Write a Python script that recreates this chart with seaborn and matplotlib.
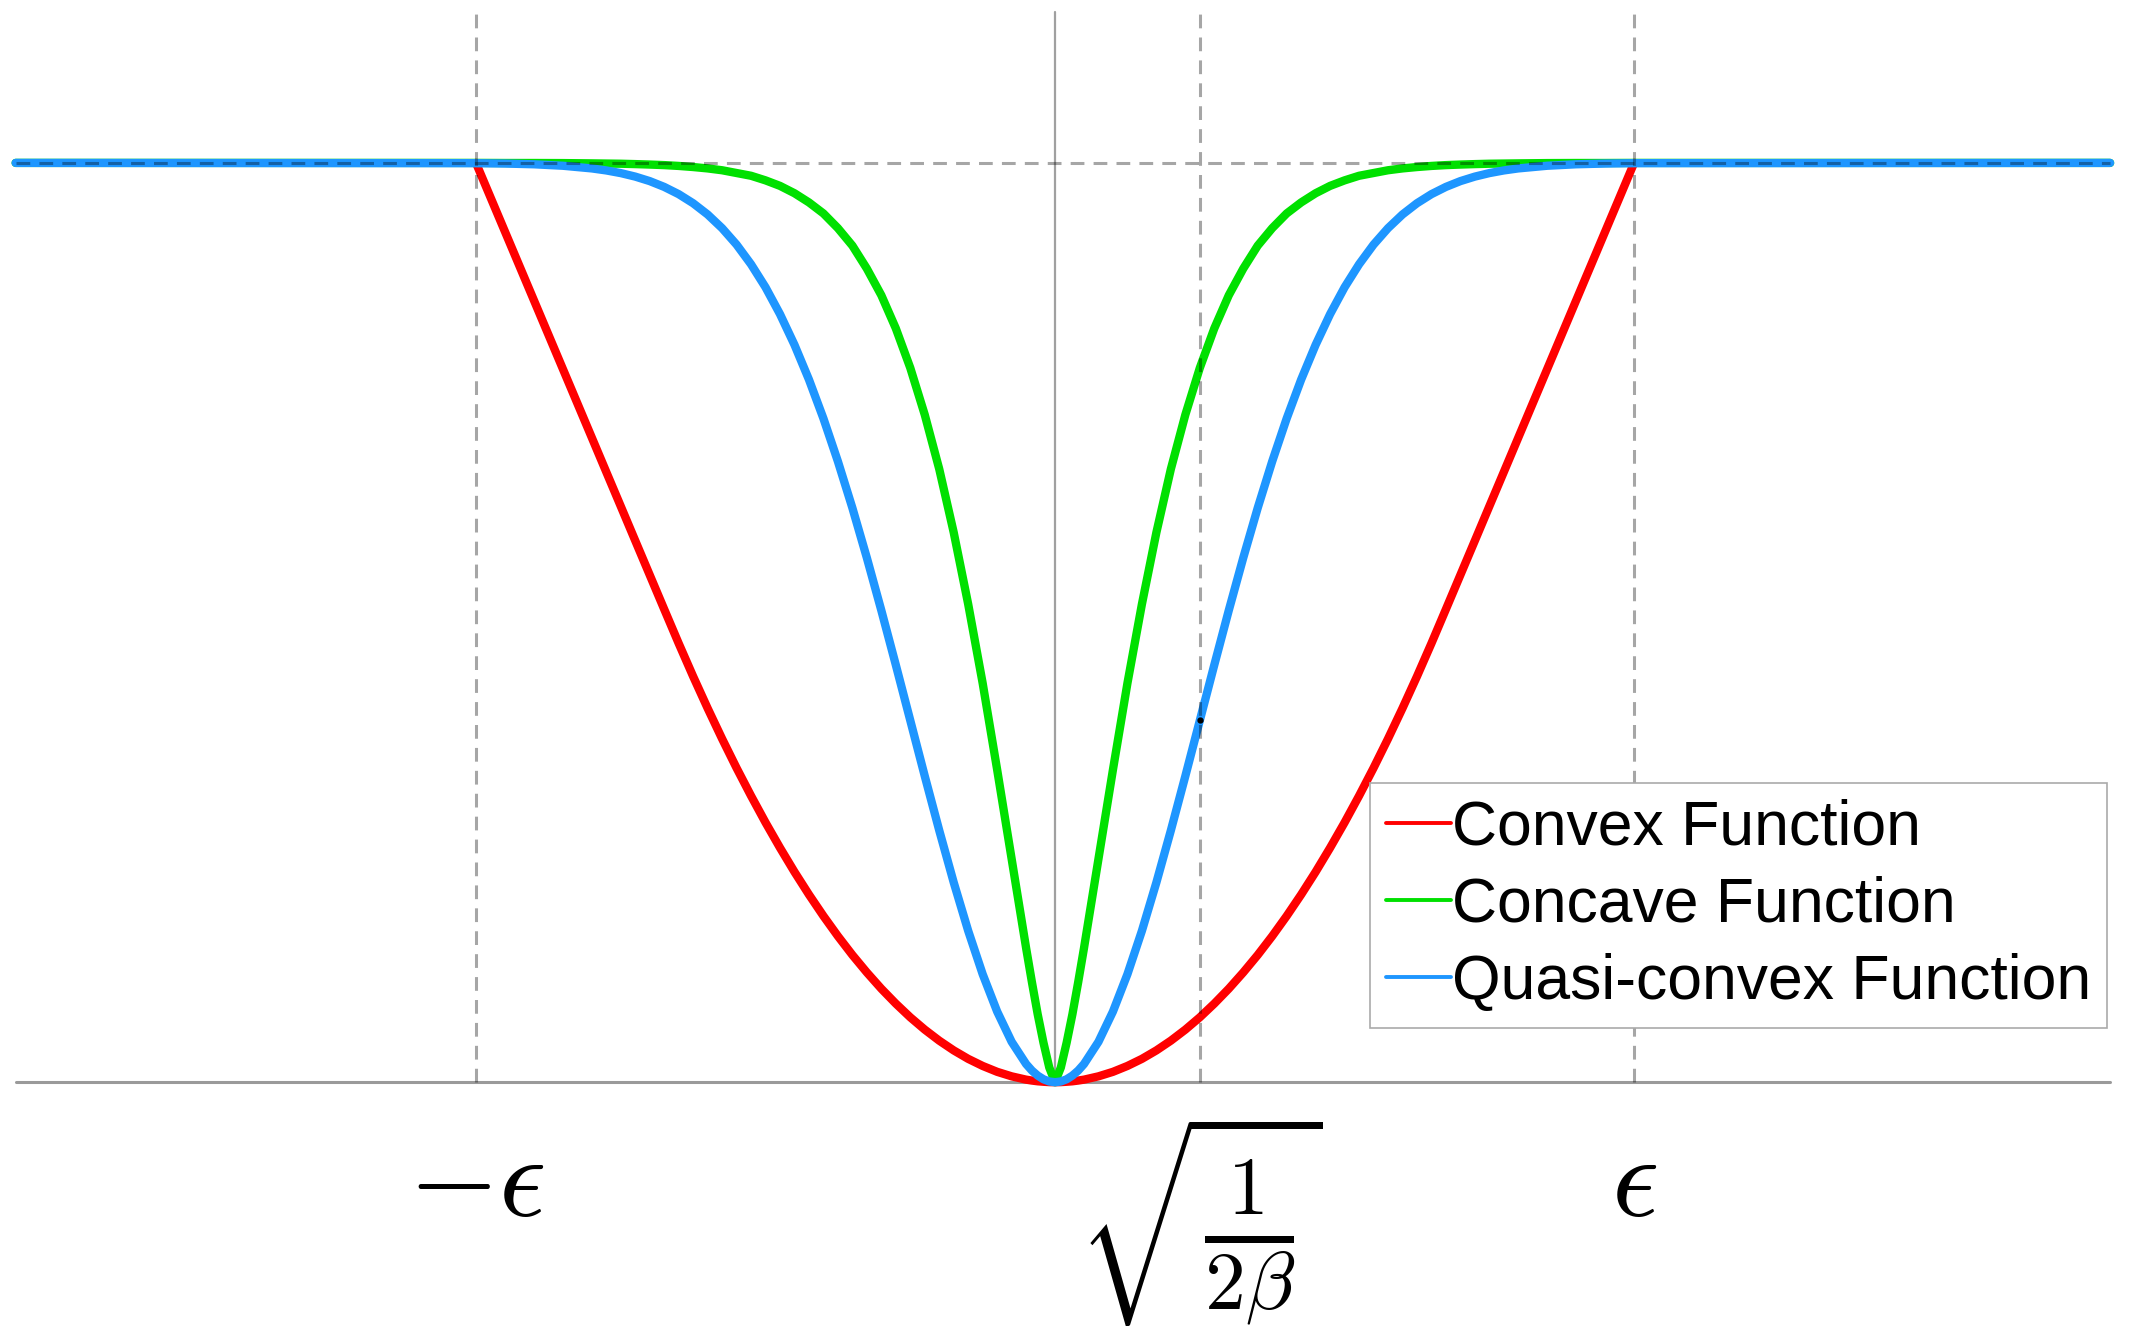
import numpy as np
import pandas as pd
import matplotlib
matplotlib.use('Agg')
import matplotlib.pyplot as plt
import seaborn as sns
from matplotlib.lines import Line2D

sns.set_style('white')
plt.rcParams['font.family'] = ['Liberation Sans', 'DejaVu Sans']
plt.rcParams['mathtext.fontset'] = 'cm'
plt.rcParams['text.color'] = 'black'

# right half of each curve (curves are symmetric about 0)
x_half = [0, 0.01, 0.02, 0.03, 0.04, 0.05, 0.075, 0.1, 0.125, 0.15, 0.175, 0.2,
          0.225, 0.25, 0.275, 0.3, 0.325, 0.35, 0.375, 0.4, 0.425, 0.45, 0.475,
          0.5, 0.525, 0.55, 0.575, 0.6, 0.625, 0.65, 0.675, 0.7, 0.725, 0.75,
          0.775, 0.8, 0.85, 0.9, 0.95, 1.0]
convex_half = [0, 0.0001, 0.0005, 0.001, 0.0018, 0.0028, 0.0064, 0.0113, 0.0177,
               0.0254, 0.0346, 0.0452, 0.0572, 0.0706, 0.0855, 0.1017, 0.1194,
               0.1384, 0.1589, 0.1808, 0.2041, 0.2288, 0.2550, 0.2825, 0.3115,
               0.3418, 0.3736, 0.4068, 0.4414, 0.4774, 0.5145, 0.5518, 0.5891,
               0.6265, 0.6638, 0.7012, 0.7759, 0.8506, 0.9253, 1.0]
concave_half = [0, 0.016, 0.043, 0.074, 0.109, 0.146, 0.243, 0.340, 0.434, 0.520,
                0.598, 0.667, 0.726, 0.777, 0.820, 0.856, 0.885, 0.910, 0.929,
                0.945, 0.957, 0.967, 0.975, 0.981, 0.986, 0.989, 0.992, 0.994,
                0.9955, 0.9967, 0.9976, 0.9982, 0.9987, 0.9991, 0.9993, 0.9995,
                0.9998, 0.9999, 0.9999, 1.0]
quasi_half = [0, 0.0008, 0.0032, 0.0072, 0.0127, 0.0198, 0.044, 0.0769, 0.1175,
              0.1647, 0.2173, 0.2739, 0.333, 0.3935, 0.4539, 0.5132, 0.5704,
              0.6247, 0.6753, 0.722, 0.7643, 0.8021, 0.8355, 0.8647, 0.8897,
              0.9111, 0.929, 0.9439, 0.9561, 0.966, 0.9739, 0.9802, 0.9851,
              0.9889, 0.9918, 0.994, 0.9969, 0.9985, 0.9993, 0.9997]

# flat parts run out to the edges of the plot
x_left_edge = -1.795
x_right_edge = 1.822
flat_level = 1.0

names = ['Convex Function', 'Concave Function', 'Quasi-convex Function']
colors = ['#ff0000', '#00e000', '#1e96ff']

tick_pos = [-1, 0.25, 1]
tick_text = [r'$-\epsilon$', r'$\sqrt{\frac{1}{2\beta}}$', r'$\epsilon$']
inflect_x = [0.25]
inflect_y = [0.3935]
y_top = 1.164


def full_curve(half, flat):
    xs = [-v for v in reversed(x_half[1:])] + x_half
    ys = list(reversed(half[1:])) + half
    if flat:
        xs = [x_left_edge] + xs + [x_right_edge]
        ys = [flat_level] + ys + [flat_level]
    return xs, ys


frames = []
for name, half, flat in zip(names, [convex_half, concave_half, quasi_half], [False, True, True]):
    xs, ys = full_curve(half, flat)
    frames.append(pd.DataFrame({'x': xs, 'y': ys, 'function': name}))
df = pd.concat(frames, ignore_index=True)

fig = plt.figure(figsize=(21.35, 13.41), dpi=100)
ax = fig.add_axes([0, 0, 1, 1])

# gray axes through the origin
ax.plot([x_left_edge, x_right_edge], [0, 0], color='#9a9a9a', lw=2.2, zorder=1)
ax.plot([0, 0], [0, y_top], color='#a0a0a0', lw=1.6, zorder=1)

sns.lineplot(data=df, x='x', y='y', hue='function', hue_order=names,
             palette=colors, estimator=None, sort=False, linewidth=6,
             legend=False, ax=ax, zorder=2)

# dashed guides on top
dash = (0, (4.5, 3))
for p in tick_pos:
    ax.plot([p, p], [0, y_top], color='k', alpha=0.35, lw=2.2, ls=dash, zorder=3)
ax.plot([x_left_edge, x_right_edge], [flat_level, flat_level], color='k',
        alpha=0.35, lw=2.2, ls=dash, zorder=3)

ax.plot(inflect_x, inflect_y, 'o', color='k', ms=3.5, zorder=4)

label_y = [-0.112, -0.150, -0.112]
for p, t, ly in zip(tick_pos, tick_text, label_y):
    ax.text(p, ly, t, ha='center', va='center', fontsize=84, color='black')

ax.set_xlim(-1.822, 1.865)
ax.set_ylim(-0.2815, 1.1772)
ax.axis('off')

handles = [Line2D([0], [0], color=c, lw=2.8) for c in colors]
leg = ax.legend(handles, names, loc='upper left',
                bbox_to_anchor=(1370 / 2135, 1 - 783 / 1341),
                bbox_transform=fig.transFigure, borderaxespad=0, fontsize=45,
                handlelength=1.05, handletextpad=0.02, borderpad=0.25,
                labelspacing=0.29, frameon=True, fancybox=False,
                edgecolor='#aaaaaa', framealpha=1)
leg.get_frame().set_linewidth(1.2)
for t in leg.get_texts():
    t.set_color('black')

fig.savefig('out.png', dpi=100)
